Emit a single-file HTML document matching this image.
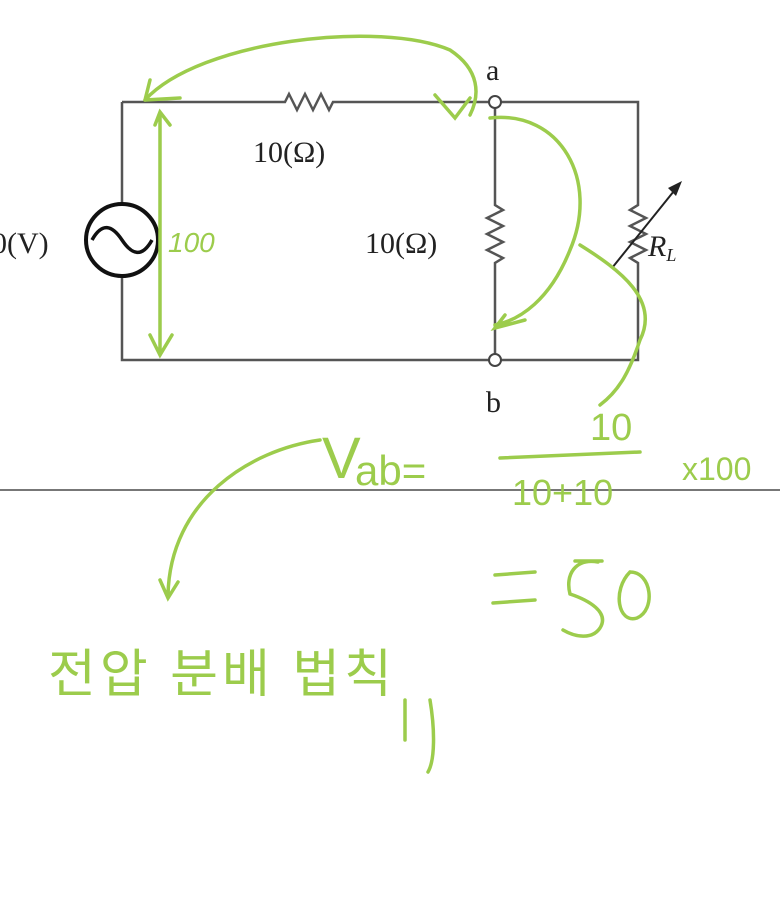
<!DOCTYPE html>
<html><head><meta charset="utf-8"><style>
html,body{margin:0;padding:0;background:#fff;width:780px;height:908px;overflow:hidden}
</style></head><body>
<svg width="780" height="908" viewBox="0 0 780 908" xmlns="http://www.w3.org/2000/svg">
<g stroke="#555" stroke-width="2.5" fill="none">
<path d="M122 102 H285 l4 -8 l8 16 l8 -16 l8 16 l8 -16 l8 16 l4 -8 H489"/>
<path d="M501 102 H638 V205 l-8 5 l16 8 l-16 8 l16 8 l-16 8 l16 8 l-16 8 l8 5 V360 H501"/>
<path d="M489 360 H122 V276"/>
<path d="M122 102 V204"/>
<path d="M495 108 V205 l8 5 l-16 8 l16 8 l-16 8 l16 8 l-16 8 l16 8 l-8 5 V354"/>
<path d="M612 268 L678 186" stroke="#222" stroke-width="2"/>
</g>
<polygon points="682,181 668,188 676,196" fill="#222"/>
<circle cx="122" cy="240" r="36" fill="none" stroke="#111" stroke-width="4"/>
<path d="M92 240 C102 222 112 225 122 240 C132 255 142 258 152 240" fill="none" stroke="#111" stroke-width="3.5"/>
<circle cx="495" cy="102" r="6" fill="#fff" stroke="#444" stroke-width="2"/>
<circle cx="495" cy="360" r="6" fill="#fff" stroke="#444" stroke-width="2"/>
<g font-family="Liberation Serif, serif" font-size="30" fill="#222">
<text x="486" y="80">a</text>
<text x="486" y="412">b</text>
<text x="253" y="162">10(Ω)</text>
<text x="365" y="253">10(Ω)</text>
<text x="-8" y="253">0(V)</text>
<text x="648" y="256" font-style="italic">R<tspan font-size="18" dy="5">L</tspan></text>
</g>
<line x1="0" y1="490" x2="780" y2="490" stroke="#777" stroke-width="2"/>
<g stroke="#9ccc4c" stroke-width="3.5" fill="none" stroke-linecap="round">
<path d="M145 100 C200 40 380 20 450 50 C480 70 480 95 470 115"/>
<path d="M145 100 L150 80 M145 100 L180 98"/>
<path d="M435 95 L455 118 L470 98"/>
<path d="M160 115 V355 M155 125 L160 112 L170 125 M150 335 L160 355 L172 335"/>
<path d="M490 118 C560 110 600 180 570 250 C550 300 520 320 495 325 M505 315 L495 328 L525 320"/>
<path d="M580 245 C620 270 660 300 640 340 C630 370 620 390 600 405"/>
<path d="M320 440 C250 450 170 500 168 595 M160 580 L168 598 L178 582"/>
<path d="M500 458 L640 452"/>
<path d="M495 575 L535 572 M493 603 L535 600"/>
<path d="M598 562 C575 558 565 575 570 594 M575 561 L602 561 M570 594 C588 600 610 612 600 628 C592 640 575 637 563 630"/>
<path d="M630 572 C612 590 618 624 637 618 C656 610 652 572 630 572"/>
<path d="M430 700 C435 730 435 760 428 772"/>
<path d="M405 700 V740"/>
</g>
<g font-family="Liberation Sans, sans-serif" fill="#9ccc4c">
<text x="168" y="252" font-size="28" font-style="italic">100</text>
<text x="322" y="478" font-size="58">V</text>
<text x="355" y="485" font-size="42">ab=</text>
<text x="590" y="440" font-size="38">10</text>
<text x="512" y="505" font-size="36">10+10</text>
<text x="682" y="480" font-size="32">x100</text>
</g>
<text x="48" y="692" font-family="Liberation Sans, 'Noto Sans CJK KR', sans-serif" font-size="52" letter-spacing="4" fill="#9ccc4c">전압 분배 법칙</text>
</svg>
</body></html>
